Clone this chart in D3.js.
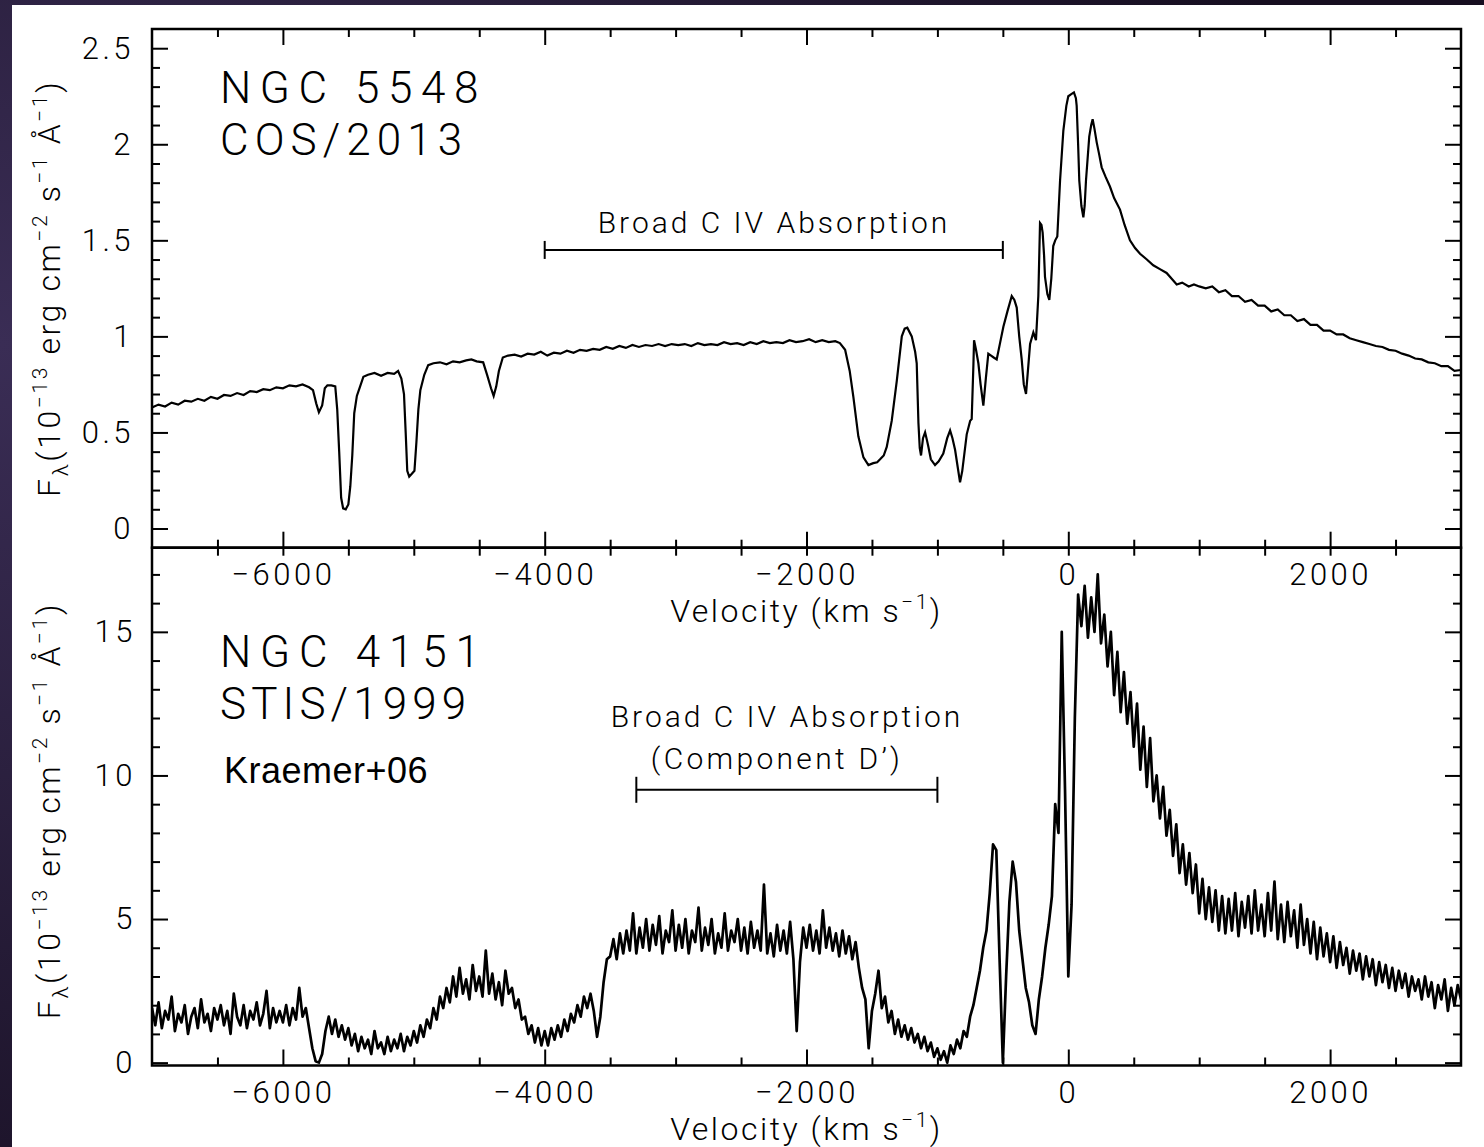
<!DOCTYPE html>
<html>
<head>
<meta charset="utf-8">
<script src="https://cdn.jsdelivr.net/npm/d3@7"></script>
<style>
  html, body { margin: 0; padding: 0; background: #1c1327; }
  svg { display: block; }
</style>
</head>
<body>
<svg id="chart" width="1484" height="1147"></svg>
<script>
// ---------------------------------------------------------------
// NGC 5548 (HST/COS 2013) – C IV region, flux in 1e-13 erg/cm2/s/A
// ---------------------------------------------------------------
const ngc5548Velocity = [
  -7000,-6950,-6900,-6850,-6800,-6750,-6700,-6650,-6600,-6550,
  -6500,-6450,-6400,-6350,-6300,-6250,-6200,-6150,-6100,-6050,
  -6000,-5950,-5900,-5850,-5800,-5770,-5745,-5725,-5700,-5680,
  -5660,-5630,-5600,-5585,-5570,-5555,-5540,-5520,-5500,-5485,
  -5470,-5455,-5435,-5410,-5385,-5350,-5300,-5250,-5200,-5150,
  -5120,-5095,-5075,-5062,-5050,-5035,-5015,-4995,-4980,-4965,
  -4950,-4920,-4890,-4850,-4800,-4750,-4700,-4650,-4600,-4560,
  -4520,-4470,-4440,-4410,-4390,-4370,-4350,-4320,-4280,-4230,
  -4180,-4130,-4080,-4030,-3980,-3930,-3880,-3830,-3780,-3730,
  -3680,-3630,-3580,-3530,-3480,-3430,-3380,-3330,-3280,-3230,
  -3180,-3130,-3080,-3030,-2980,-2930,-2880,-2830,-2780,-2730,
  -2680,-2630,-2580,-2530,-2480,-2430,-2380,-2330,-2280,-2230,
  -2180,-2130,-2080,-2030,-1980,-1930,-1880,-1830,-1780,-1745,
  -1705,-1670,-1642,-1604,-1565,-1527,-1490,-1460,-1438,-1410,
  -1387,-1349,-1310,-1272,-1250,-1230,-1196,-1170,-1158,-1145,
  -1135,-1125,-1110,-1094,-1080,-1069,-1050,-1018,-990,-955,
  -925,-903,-885,-865,-845,-827,-810,-776,-750,-738,
  -725,-720,-705,-687,-670,-649,-630,-611,-590,-570,
  -547,-520,-496,-465,-432,-412,-394,-375,-356,-340,
  -323,-305,-292,-267,-247,-229,-216,-205,-196,-185,
  -178,-160,-145,-130,-115,-100,-84,-63,-38,-15,
  0,20,43,58,64,75,84,100,115,125,
  135,160,175,186,200,217,235,255,285,318,
  350,395,430,471,510,548,600,649,700,751,
  790,828,870,920,960,1000,1050,1100,1150,1200,
  1250,1300,1350,1400,1450,1500,1550,1600,1650,1700,
  1750,1800,1850,1900,1950,2000,2050,2100,2150,2200,
  2250,2300,2350,2400,2450,2500,2550,2600,2650,2700,
  2750,2800,2850,2900,2950,3000
];
const ngc5548Flux = [
  0.63,0.645,0.635,0.655,0.645,0.665,0.66,0.675,0.665,0.685,
  0.675,0.695,0.69,0.705,0.695,0.715,0.71,0.725,0.72,0.735,
  0.73,0.745,0.74,0.75,0.735,0.72,0.65,0.605,0.64,0.73,
  0.745,0.745,0.74,0.62,0.40,0.16,0.105,0.10,0.125,0.22,
  0.38,0.60,0.69,0.74,0.79,0.80,0.81,0.795,0.81,0.805,
  0.82,0.78,0.70,0.50,0.30,0.27,0.285,0.30,0.45,0.62,
  0.72,0.80,0.85,0.86,0.865,0.855,0.87,0.865,0.875,0.88,
  0.87,0.865,0.80,0.73,0.69,0.74,0.82,0.89,0.90,0.905,
  0.895,0.91,0.905,0.92,0.90,0.915,0.91,0.925,0.915,0.93,
  0.925,0.935,0.93,0.945,0.935,0.95,0.94,0.955,0.945,0.955,
  0.95,0.96,0.95,0.96,0.955,0.96,0.95,0.965,0.955,0.96,
  0.955,0.97,0.96,0.965,0.955,0.97,0.96,0.975,0.965,0.97,
  0.965,0.98,0.97,0.975,0.985,0.97,0.98,0.97,0.975,0.965,
  0.93,0.82,0.685,0.48,0.37,0.33,0.34,0.345,0.36,0.38,
  0.425,0.56,0.77,1.0,1.04,1.045,1.0,0.92,0.86,0.55,
  0.42,0.38,0.47,0.50,0.46,0.425,0.36,0.33,0.35,0.39,
  0.47,0.51,0.47,0.41,0.32,0.24,0.30,0.49,0.56,0.57,
  0.85,0.98,0.93,0.86,0.75,0.64,0.78,0.91,0.90,0.89,
  0.88,0.97,1.05,1.13,1.21,1.19,1.15,1.0,0.88,0.75,
  0.70,0.85,0.96,1.02,0.98,1.21,1.59,1.58,1.54,1.42,
  1.31,1.22,1.19,1.30,1.47,1.50,1.52,1.81,2.07,2.20,
  2.25,2.26,2.27,2.24,2.20,2.0,1.81,1.68,1.62,1.68,
  1.81,2.04,2.10,2.13,2.08,2.01,1.95,1.88,1.83,1.78,
  1.72,1.66,1.58,1.50,1.46,1.43,1.40,1.37,1.35,1.33,
  1.30,1.27,1.28,1.26,1.27,1.26,1.25,1.26,1.23,1.24,
  1.21,1.21,1.18,1.19,1.16,1.16,1.13,1.14,1.11,1.11,
  1.08,1.09,1.06,1.06,1.03,1.03,1.01,1.01,0.99,0.98,
  0.97,0.96,0.95,0.945,0.93,0.925,0.91,0.90,0.885,0.88,
  0.865,0.86,0.845,0.845,0.82,0.825
];

// ---------------------------------------------------------------
// NGC 4151 (HST/STIS 1999) – C IV region, flux in 1e-13 erg/cm2/s/A
// ---------------------------------------------------------------
const ngc4151Velocity = [
  -7000,-6975,-6950,-6925,-6900,-6875,-6850,-6825,-6800,-6775,-6750,-6725,-6700,-6675,-6650,-6625,-6600,-6575,-6550,-6525,
  -6500,-6475,-6450,-6425,-6400,-6375,-6350,-6325,-6300,-6275,-6250,-6225,-6200,-6175,-6150,-6125,-6100,-6075,-6050,-6025,
  -6000,-5975,-5950,-5925,-5900,-5875,-5850,-5825,-5800,-5775,-5750,-5725,-5700,-5675,-5650,-5625,-5600,-5575,-5550,-5525,
  -5500,-5475,-5450,-5425,-5400,-5375,-5350,-5325,-5300,-5275,-5250,-5225,-5200,-5175,-5150,-5125,-5100,-5075,-5050,-5025,
  -5000,-4975,-4950,-4925,-4900,-4875,-4850,-4825,-4800,-4775,-4750,-4725,-4700,-4675,-4650,-4625,-4600,-4575,-4550,-4525,
  -4500,-4475,-4450,-4425,-4400,-4375,-4350,-4325,-4300,-4275,-4250,-4225,-4200,-4175,-4150,-4125,-4100,-4075,-4050,-4025,
  -4000,-3975,-3950,-3925,-3900,-3875,-3850,-3825,-3800,-3775,-3750,-3725,-3700,-3675,-3650,-3625,-3600,-3575,-3550,-3525,
  -3500,-3475,-3450,-3425,-3400,-3375,-3350,-3325,-3300,-3275,-3250,-3225,-3200,-3175,-3150,-3125,-3100,-3075,-3050,-3025,
  -3000,-2975,-2950,-2925,-2900,-2875,-2850,-2825,-2800,-2775,-2750,-2725,-2700,-2675,-2650,-2625,-2600,-2575,-2550,-2525,
  -2500,-2475,-2450,-2425,-2400,-2375,-2350,-2325,-2300,-2275,-2250,-2225,-2200,-2175,-2150,-2125,-2100,-2075,-2050,-2025,
  -2000,-1975,-1950,-1925,-1900,-1875,-1850,-1825,-1800,-1775,-1750,-1725,-1700,-1675,-1650,-1625,-1600,-1575,-1550,-1525,
  -1500,-1475,-1450,-1425,-1400,-1375,-1350,-1325,-1300,-1275,-1250,-1225,-1200,-1175,-1150,-1125,-1100,-1075,-1050,-1025,
  -1000,-975,-950,-925,-900,-875,-850,-825,-800,-775,-750,-725,-700,-675,-650,-625,-600,-575,-550,-525,
  -500,-475,-450,-425,-400,-375,-350,-325,-300,-275,-250,-225,-200,-175,-150,-125,-100,-75,-50,-25,
  0,25,50,75,100,125,150,175,200,225,250,275,300,325,350,375,400,425,450,475,
  500,525,550,575,600,625,650,675,700,725,750,775,800,825,850,875,900,925,950,975,
  1000,1025,1050,1075,1100,1125,1150,1175,1200,1225,1250,1275,1300,1325,1350,1375,1400,1425,1450,1475,
  1500,1525,1550,1575,1600,1625,1650,1675,1700,1725,1750,1775,1800,1825,1850,1875,1900,1925,1950,1975,
  2000,2025,2050,2075,2100,2125,2150,2175,2200,2225,2250,2275,2300,2325,2350,2375,2400,2425,2450,2475,
  2500,2525,2550,2575,2600,2625,2650,2675,2700,2725,2750,2775,2800,2825,2850,2875,2900,2925,2950,2975,3000
];
const ngc4151Flux = [
  1.9,1.3,2.1,1.2,1.8,1.5,2.3,1.1,1.7,1.4,2.0,1.0,1.6,1.9,1.2,2.2,1.4,1.7,1.1,1.9,
  1.5,2.0,1.3,1.8,1.0,2.4,1.6,1.3,2.0,1.2,1.8,1.5,2.1,1.3,1.7,2.5,1.2,1.9,1.4,1.8,
  1.4,2.0,1.3,1.9,1.5,2.6,1.6,1.9,1.2,0.5,0.05,0.0,0.3,1.1,1.6,1.0,1.5,0.9,1.3,0.8,
  1.2,0.6,1.0,0.4,0.9,0.5,0.8,0.3,1.1,0.5,0.7,0.3,0.9,0.4,0.8,0.5,1.0,0.4,0.9,0.6,
  1.1,0.7,1.3,0.9,1.5,1.2,1.9,1.5,2.3,1.9,2.6,2.1,3.0,2.3,3.3,2.4,2.9,2.2,3.4,2.5,
  3.0,2.3,3.9,2.4,3.1,2.2,2.8,2.0,3.2,2.4,2.6,1.9,2.2,1.5,1.6,1.0,1.3,0.7,1.2,0.6,
  1.1,0.6,1.2,0.8,1.3,0.9,1.5,1.1,1.7,1.4,2.0,1.6,2.3,1.9,2.4,1.8,0.9,1.6,2.8,3.6,
  3.7,4.3,3.6,4.5,3.8,4.6,3.9,5.2,3.8,4.7,4.0,5.0,3.9,4.8,4.1,5.1,3.8,4.6,4.2,5.3,
  3.9,4.8,4.0,5.0,3.8,4.6,4.2,5.4,3.9,4.7,4.1,5.0,3.8,4.5,4.0,5.2,3.9,4.6,4.2,5.0,
  3.9,4.7,3.8,4.9,4.0,4.6,3.9,6.2,3.8,4.5,3.7,4.8,3.9,4.6,3.8,4.9,3.6,1.1,3.5,4.7,
  4.0,4.8,3.9,4.6,3.8,5.3,4.0,4.7,3.9,4.5,3.7,4.6,3.8,4.4,3.6,4.2,3.3,2.6,2.2,0.5,
  1.8,2.4,3.2,1.9,2.3,1.4,1.8,1.0,1.5,0.9,1.3,0.8,1.2,0.7,1.0,0.5,0.9,0.4,0.7,0.2,
  0.5,0.1,0.4,0.0,0.6,0.3,0.8,0.5,1.1,0.9,1.6,2.0,2.6,3.2,4.0,4.6,5.9,7.6,7.4,3.6,
  0.0,3.0,5.6,7.0,6.3,4.6,3.6,2.6,2.1,1.3,1.0,2.2,3.0,4.0,4.8,5.8,9.0,8.0,15.0,9.5,
  3.0,5.5,12.0,16.3,15.2,16.6,14.8,16.2,15.0,17.0,14.6,15.6,13.8,15.0,12.8,14.3,12.2,13.6,11.8,12.9,
  11.0,12.5,10.2,11.7,9.6,11.3,9.1,10.0,8.5,9.6,7.9,8.8,7.2,8.3,6.6,7.6,6.2,7.3,5.9,6.9,
  5.2,6.4,5.0,6.1,4.9,6.0,4.6,5.8,4.5,5.7,4.6,5.9,4.4,5.6,4.7,5.8,4.5,6.0,4.6,5.5,
  4.4,5.9,4.6,6.3,4.3,5.5,4.2,5.6,4.4,5.3,4.0,5.5,4.1,5.0,3.8,4.9,3.6,4.7,3.7,4.5,
  3.5,4.4,3.3,4.2,3.4,4.0,3.1,3.9,3.2,3.8,2.9,3.7,3.0,3.6,2.7,3.5,2.8,3.4,2.6,3.3,
  2.5,3.2,2.6,3.1,2.3,3.0,2.5,2.9,2.2,3.0,2.3,2.8,1.9,2.7,2.2,2.9,1.8,2.6,2.0,2.7,2.2
];

// Velocity ranges of the marked broad C IV absorption troughs and the flux level of each bracket
const absorption5548 = [-4000, -500];
const absorption5548Level = 1.45;
const absorption4151 = [-3300, -1000];
const absorption4151Level = 9.5;

// Tick values
const velocityMajor = [-6000, -4000, -2000, 0, 2000];
const velocityMinor = [-6500, -5500, -5000, -4500, -3500, -3000, -2500, -1500, -1000, -500, 500, 1000, 1500, 2500];
const flux5548Major = [0, 0.5, 1, 1.5, 2, 2.5];
const flux5548Minor = [0.1,0.2,0.3,0.4,0.6,0.7,0.8,0.9,1.1,1.2,1.3,1.4,1.6,1.7,1.8,1.9,2.1,2.2,2.3,2.4];
const flux4151Major = [0, 5, 10, 15];
const flux4151Minor = [1,2,3,4,6,7,8,9,11,12,13,14,16,17];

// ---------------------------------------------------------------
const W = 1484, H = 1147;
const FONT = "Roboto, 'DejaVu Sans', sans-serif";
const svg = d3.select("#chart");

// dark backdrop and the white page
const defs = svg.append("defs");
const grad = defs.append("radialGradient").attr("id", "space")
  .attr("cx", "0%").attr("cy", "30%").attr("r", "90%");
grad.append("stop").attr("offset", "0%").attr("stop-color", "#3a2d55");
grad.append("stop").attr("offset", "100%").attr("stop-color", "#160e20");
svg.append("rect").attr("width", W).attr("height", H).attr("fill", "url(#space)");
svg.append("rect").attr("x", 12).attr("y", 5).attr("width", W - 12).attr("height", H - 5).attr("fill", "#fff");

// panel geometry
const pLeft = 152, pRight = 1461, pTop = 29, pMid = 547.7, pBottom = 1065.5;

const x = d3.scaleLinear().domain([-7000, 3000]).range([pLeft, pRight]);
const yTop = d3.scaleLinear().domain([-0.1, 2.6]).range([pMid, pTop]);
const yBot = d3.scaleLinear().domain([-0.1, 17.93]).range([pBottom, pMid]);

defs.append("clipPath").attr("id", "clipTop").append("rect")
  .attr("x", pLeft).attr("y", pTop).attr("width", pRight - pLeft).attr("height", pMid - pTop);
defs.append("clipPath").attr("id", "clipBot").append("rect")
  .attr("x", pLeft).attr("y", pMid).attr("width", pRight - pLeft).attr("height", pBottom - pMid);

// spectra
const spec5548 = d3.zip(ngc5548Velocity, ngc5548Flux);
const spec4151 = d3.zip(ngc4151Velocity, ngc4151Flux);

svg.append("path")
  .datum(spec5548)
  .attr("clip-path", "url(#clipTop)")
  .attr("fill", "none").attr("stroke", "#000").attr("stroke-width", 2.2)
  .attr("d", d3.line().x(d => x(d[0])).y(d => yTop(d[1])));

svg.append("path")
  .datum(spec4151)
  .attr("clip-path", "url(#clipBot)")
  .attr("fill", "none").attr("stroke", "#000").attr("stroke-width", 2.7)
  .attr("stroke-linejoin", "round")
  .attr("d", d3.line().x(d => x(d[0])).y(d => yBot(d[1])));

// axes helper: ticks point into the panel (negative tick size)
function drawAxis(axis, tx, ty, values, size, fmt, pad) {
  const g = svg.append("g")
    .attr("transform", `translate(${tx},${ty})`)
    .call(axis.tickValues(values).tickSize(size).tickSizeOuter(0)
      .tickPadding(pad || 0).tickFormat(fmt || (() => "")));
  g.select(".domain").remove();
  g.selectAll(".tick line").attr("stroke", "#000").attr("stroke-width", 2);
  g.selectAll(".tick text")
    .attr("fill", "#000")
    .style("font-family", FONT).style("font-weight", 300)
    .style("font-size", "31px").style("letter-spacing", "3.5px");
  return g;
}

const vFmt = d3.format("d");
const fFmt = d => String(d);

// upper panel
drawAxis(d3.axisLeft(yTop), pLeft, 0, flux5548Major, -16, fFmt, 18);
drawAxis(d3.axisLeft(yTop), pLeft, 0, flux5548Minor, -8);
drawAxis(d3.axisRight(yTop), pRight, 0, flux5548Major, -16);
drawAxis(d3.axisRight(yTop), pRight, 0, flux5548Minor, -8);
drawAxis(d3.axisTop(x), 0, pTop, velocityMajor, -16);
drawAxis(d3.axisTop(x), 0, pTop, velocityMinor, -8);
drawAxis(d3.axisBottom(x), 0, pMid, velocityMajor, -16, vFmt, 15);
drawAxis(d3.axisBottom(x), 0, pMid, velocityMinor, -8);

// lower panel
drawAxis(d3.axisLeft(yBot), pLeft, 0, flux4151Major, -16, fFmt, 16);
drawAxis(d3.axisLeft(yBot), pLeft, 0, flux4151Minor, -8);
drawAxis(d3.axisRight(yBot), pRight, 0, flux4151Major, -16);
drawAxis(d3.axisRight(yBot), pRight, 0, flux4151Minor, -8);
drawAxis(d3.axisTop(x), 0, pMid, velocityMajor, -8);
drawAxis(d3.axisTop(x), 0, pMid, velocityMinor, -8);
drawAxis(d3.axisBottom(x), 0, pBottom, velocityMajor, -16, vFmt, 15);
drawAxis(d3.axisBottom(x), 0, pBottom, velocityMinor, -8);

// frames
svg.append("rect").attr("x", pLeft).attr("y", pTop).attr("width", pRight - pLeft).attr("height", pMid - pTop)
  .attr("fill", "none").attr("stroke", "#000").attr("stroke-width", 2.5);
svg.append("rect").attr("x", pLeft).attr("y", pMid).attr("width", pRight - pLeft).attr("height", pBottom - pMid)
  .attr("fill", "none").attr("stroke", "#000").attr("stroke-width", 2.5);

// text helper: a part with "nl" starts a new line at that x offset; "dy" shifts the baseline
function label(tx, ty, parts, opts) {
  const t = svg.append("text")
    .attr("transform", `translate(${tx},${ty})` + (opts.rotate ? ` rotate(${opts.rotate})` : ""))
    .attr("text-anchor", opts.anchor || "start")
    .attr("fill", "#000")
    .style("font-family", opts.family || FONT)
    .style("font-weight", opts.weight || 300)
    .style("font-size", opts.size + "px")
    .style("letter-spacing", (opts.spacing || 0) + "px");
  parts.forEach(p => {
    const s = t.append("tspan").text(p.t);
    if (p.nl !== undefined) s.attr("x", p.nl);
    if (p.dy) s.attr("dy", p.dy);
    if (p.size) s.style("font-size", p.size + "px");
    if (p.spacing !== undefined) s.style("letter-spacing", p.spacing + "px");
  });
  return t;
}

// axis titles
const yTitle = [
  { t: "F" }, { t: "λ", dy: 8, size: 22 }, { t: "(10", dy: -8 },
  { t: "−13", dy: -13, size: 21 }, { t: " erg cm", dy: 13 },
  { t: "−2", dy: -13, size: 21 }, { t: " s", dy: 13 },
  { t: "−1", dy: -13, size: 21 }, { t: " Å", dy: 13 },
  { t: "−1", dy: -13, size: 21 }, { t: ")", dy: 13 }
];
label(60, (pTop + pMid) / 2, yTitle, { size: 32, rotate: -90, anchor: "middle", spacing: 2.6 });
label(60, (pMid + pBottom) / 2 + 4, yTitle, { size: 32, rotate: -90, anchor: "middle", spacing: 2.6 });

const xTitle = [{ t: "Velocity (km s" }, { t: "−1", dy: -13, size: 21 }, { t: ")", dy: 13 }];
label((pLeft + pRight) / 2, 622, xTitle, { size: 32, anchor: "middle", spacing: 2.5 });
label((pLeft + pRight) / 2, 1140, xTitle, { size: 32, anchor: "middle", spacing: 2.5 });

// object names (two-line blocks)
label(220, 103, [{ t: "NGC 5548", spacing: 8.6 }, { t: "COS/2013", nl: 0, dy: 52, spacing: 6.1 }], { size: 44 });
label(220, 667, [{ t: "NGC 4151", spacing: 8.8 }, { t: "STIS/1999", nl: 0, dy: 52, spacing: 5.1 }], { size: 44 });
label(224, 783, [{ t: "Kraemer+06" }], { size: 36, family: "'Liberation Sans', Arial, sans-serif", weight: 400, spacing: 0.5 });

// absorption brackets
function bracket(range, yv, yScale, cap) {
  const g = svg.append("g").attr("stroke", "#000").attr("stroke-width", 2);
  const y0 = yScale(yv);
  g.append("line").attr("x1", x(range[0])).attr("x2", x(range[1])).attr("y1", y0).attr("y2", y0);
  range.forEach(v => g.append("line").attr("x1", x(v)).attr("x2", x(v)).attr("y1", y0 - cap).attr("y2", y0 + cap));
}
bracket(absorption5548, absorption5548Level, yTop, 9);
label(774, 233, [{ t: "Broad C IV Absorption" }], { size: 30, anchor: "middle", spacing: 3.0 });
bracket(absorption4151, absorption4151Level, yBot, 13);
label(787, 727, [{ t: "Broad C IV Absorption" }, { t: "(Component D’)", nl: -10, dy: 42, spacing: 3.3 }],
  { size: 30, anchor: "middle", spacing: 3.0 });
</script>
</body>
</html>
